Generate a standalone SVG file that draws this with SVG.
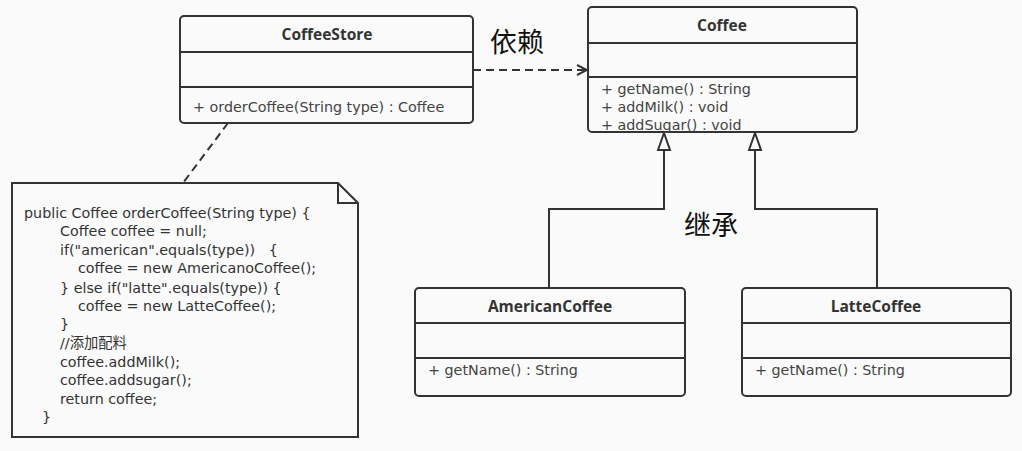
<svg xmlns="http://www.w3.org/2000/svg" width="1022" height="451" viewBox="0 0 1022 451">
<style>
.box{fill:#fafafa;stroke:#333;stroke-width:2}
.div{stroke:#333;stroke-width:2;fill:none}
.title{font-family:"Open Sans","Noto Sans",sans-serif;font-size:15.5px;font-weight:bold;fill:#333;text-anchor:middle}
.mem{font-family:"DejaVu Sans",sans-serif;font-size:14.3px;fill:#444}
.code{font-family:"DejaVu Sans","Noto Sans CJK SC",sans-serif;font-size:14.3px;fill:#333}
.lbl{font-family:"Noto Sans CJK SC",sans-serif;font-size:27px;fill:#111}
.edge{stroke:#333;stroke-width:2;fill:none}
.dash{stroke-dasharray:8,5}
</style>
<defs>
<marker id="open" viewBox="0 0 12 12" refX="11" refY="6" markerWidth="12" markerHeight="12" markerUnits="userSpaceOnUse" orient="auto">
<path d="M1,1 L11,6 L1,11" fill="none" stroke="#333" stroke-width="2"/>
</marker>
<marker id="tri" viewBox="0 0 20 16" refX="19" refY="8" markerWidth="20" markerHeight="16" markerUnits="userSpaceOnUse" orient="auto">
<path d="M2,2 L19,8 L2,14 Z" fill="#fafafa" stroke="#333" stroke-width="2"/>
</marker>
</defs>
<rect width="1022" height="451" fill="#fafafa"/>
<g id="connectors">
<path class="edge dash" d="M473,70 L587,70" marker-end="url(#open)"/>
<path class="edge dash" d="M228,123 L183,183"/>
<path class="edge" d="M549,288 L549,209 L664,209 L664,133" marker-end="url(#tri)"/>
<path class="edge" d="M877,288 L877,209 L755,209 L755,133" marker-end="url(#tri)"/>
</g>
<g id="CoffeeStore">
<rect class="box" x="180" y="16" width="293" height="107" rx="4"/>
<path class="div" d="M180,52 H473 M180,87 H473"/>
<text class="title" x="327" y="40">CoffeeStore</text>
<text class="mem" x="193" y="112">+ orderCoffee(String type) : Coffee</text>
</g>
<g id="Coffee">
<rect class="box" x="588" y="7" width="269" height="125" rx="4"/>
<path class="div" d="M588,43 H857 M588,77 H857"/>
<text class="title" x="722" y="31">Coffee</text>
<text class="mem" x="601" y="94">+ getName() : String</text>
<text class="mem" x="601" y="112">+ addMilk() : void</text>
<text class="mem" x="601" y="130">+ addSugar() : void</text>
</g>
<g id="AmericanCoffee">
<rect class="box" x="415" y="288" width="270" height="108" rx="4"/>
<path class="div" d="M415,323 H685 M415,358 H685"/>
<text class="title" x="550" y="312">AmericanCoffee</text>
<text class="mem" x="428" y="375">+ getName() : String</text>
</g>
<g id="LatteCoffee">
<rect class="box" x="742" y="288" width="269" height="108" rx="4"/>
<path class="div" d="M742,323 H1011 M742,358 H1011"/>
<text class="title" x="876" y="312">LatteCoffee</text>
<text class="mem" x="755" y="375">+ getName() : String</text>
</g>
<g id="note">
<path class="box" d="M12,183 H338 L358,203 V437 H12 Z"/>
<path class="div" d="M338,183 V203 H358"/>
<text class="code" x="24" y="218">public Coffee orderCoffee(String type) {</text>
<text class="code" x="60" y="236">Coffee coffee = null;</text>
<text class="code" x="60" y="255" xml:space="preserve">if("american".equals(type))   {</text>
<text class="code" x="78" y="273">coffee = new AmericanoCoffee();</text>
<text class="code" x="60" y="293">} else if("latte".equals(type)) {</text>
<text class="code" x="78" y="311">coffee = new LatteCoffee();</text>
<text class="code" x="60" y="329">}</text>
<text class="code" x="60" y="348">//添加配料</text>
<text class="code" x="60" y="367">coffee.addMilk();</text>
<text class="code" x="60" y="385">coffee.addsugar();</text>
<text class="code" x="60" y="404">return coffee;</text>
<text class="code" x="42" y="422">}</text>
</g>
<text class="lbl" x="490" y="52">依赖</text>
<text class="lbl" x="684" y="235">继承</text>
</svg>
